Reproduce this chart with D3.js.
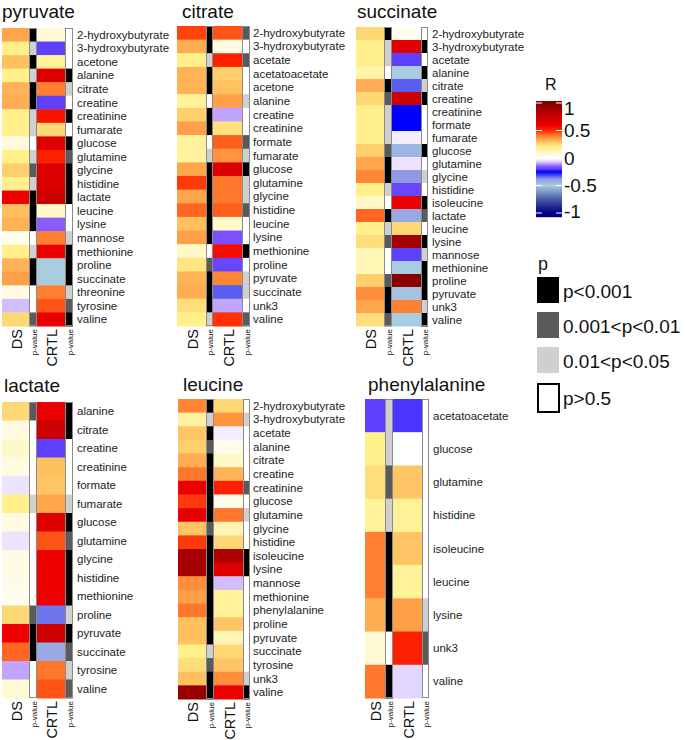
<!DOCTYPE html>
<html><head><meta charset="utf-8">
<script src="https://cdn.jsdelivr.net/npm/d3@7"></script>
<style>
body{margin:0;background:#fff}
svg{display:block}
text{font-family:Arial,"Liberation Sans",Helvetica,sans-serif}
</style>
</head><body>
<svg id="chart" width="685" height="740"></svg>
<script>
// ---------- DATA ----------
// p levels: 0 = p>0.05, 1 = 0.01<p<0.05, 2 = 0.001<p<0.01, 3 = p<0.001
const pyruvateRows = ["2-hydroxybutyrate","3-hydroxybutyrate","acetone","alanine","citrate","creatine","creatinine","fumarate","glucose","glutamine","glycine","histidine","lactate","leucine","lysine","mannose","methionine","proline","succinate","threonine","tyrosine","valine"];
const pyruvateDS    = [0.34,0.2,0.3,0.2,0.32,0.33,0.2,0.2,0.06,0.2,0.27,0.2,0.6,0.3,0.32,0.03,0.2,0.32,0.35,0.06,-0.08,0.25];
const pyruvateDSp   = [3,1,3,1,3,3,1,1,0,1,2,1,3,3,3,0,1,3,3,0,0,2];
const pyruvateCRTL  = [0.08,-0.2,0.18,0.68,0.4,-0.2,0.55,0.25,0.68,0.52,0.68,0.68,0.75,0.1,-0.15,0.4,0.62,-0.5,-0.5,0.4,0.45,0.62];
const pyruvateCRTLp = [0,0,0,3,1,0,3,0,3,2,3,3,3,0,0,1,3,3,3,1,2,3];

const citrateRows = ["2-hydroxybutyrate","3-hydroxybutyrate","acetate","acetatoacetate","acetone","alanine","creatine","creatinine","formate","fumarate","glucose","glutamine","glycine","histidine","leucine","lysine","methionine","proline","pyruvate","succinate","unk3","valine"];
const citrateDS    = [0.47,0.33,0.2,0.32,0.32,0.18,0.27,0.35,0.17,0.17,0.34,0.48,0.34,0.43,0.3,0.35,0.1,0.22,0.32,0.33,0.24,0.2];
const citrateDSp   = [3,3,1,3,3,0,3,3,0,1,3,3,3,3,3,3,0,2,3,3,3,1];
const citrateCRTL  = [0.45,0.06,0.52,0.27,0.3,0.35,-0.1,0.23,0.44,0.37,0.68,0.41,0.41,0.44,0.1,-0.17,0.57,-0.19,0.39,-0.33,-0.1,0.49];
const citrateCRTLp = [2,0,2,0,0,1,0,0,2,1,3,1,1,2,0,0,3,0,1,1,0,2];

const succinateRows = ["2-hydroxybutyrate","3-hydroxybutyrate","acetate","alanine","citrate","creatine","creatinine","formate","fumarate","glucose","glutamine","glycine","histidine","isoleucine","lactate","leucine","lysine","mannose","methionine","proline","pyruvate","unk3","valine"];
const succinateDS    = [0.25,0.2,0.2,0.15,0.33,0.25,0.2,0.2,0.2,0.27,0.34,0.39,0.2,0.1,0.43,0.2,0.24,0.13,0.13,0.27,0.38,0.34,0.24];
const succinateDSp   = [3,1,1,0,3,2,1,1,1,2,3,3,1,0,3,1,2,0,0,2,3,3,2];
const succinateCRTL  = [0.04,0.66,-0.2,-0.5,-0.33,0.75,-0.25,-0.25,-0.03,-0.45,-0.05,-0.38,-0.19,0.62,-0.42,0.25,0.88,-0.2,-0.5,0.97,-0.48,0.4,-0.5];
const succinateCRTLp = [0,3,0,3,1,3,0,0,0,3,0,1,0,3,2,0,3,1,3,3,3,1,3];

const lactateRows = ["alanine","citrate","creatine","creatinine","formate","fumarate","glucose","glutamine","glycine","histidine","methionine","proline","pyruvate","succinate","tyrosine","valine"];
const lactateDS    = [0.25,0.06,0.1,0.06,-0.05,0.2,0.06,-0.05,0.05,0.05,0.03,0.25,0.6,0.43,-0.1,0.08];
const lactateDSp   = [2,0,0,0,0,1,0,0,0,0,0,2,3,3,0,0];
const lactateCRTL  = [0.62,0.75,-0.2,0.3,0.29,0.34,0.66,0.45,0.6,0.6,0.6,-0.35,0.75,-0.42,0.41,0.45];
const lactateCRTLp = [3,3,0,0,0,1,3,2,3,3,3,1,3,2,1,2];

const leucineRows = ["2-hydroxybutyrate","3-hydroxybutyrate","acetate","alanine","citrate","creatine","creatinine","glucose","glutamine","glycine","histidine","isoleucine","lysine","mannose","methionine","phenylalanine","proline","pyruvate","succinate","tyrosine","unk3","valine"];
const leucineDS    = [0.39,0.17,0.29,0.27,0.33,0.41,0.6,0.48,0.63,0.29,0.48,0.88,0.88,0.38,0.35,0.41,0.3,0.3,0.2,0.24,0.3,0.92];
const leucineDSp   = [3,1,3,2,3,3,3,3,3,2,3,3,3,3,3,3,3,3,1,2,3,3];
const leucineCRTL  = [0.25,0.37,-0.03,0.04,0.1,0.32,0.52,0.04,0.41,0.13,0.25,0.85,0.68,-0.08,0.18,0.18,0.29,0.13,0.25,0.29,0.38,0.6];
const leucineCRTLp = [0,1,0,0,0,0,2,0,1,0,0,3,3,0,0,0,0,0,0,0,1,3];

const phenylalanineRows = ["acetatoacetate","glucose","glutamine","histidine","isoleucine","leucine","lysine","unk3","valine"];
const phenylalanineDS    = [-0.2,0.2,0.24,0.18,0.4,0.4,0.33,0.08,0.41];
const phenylalanineDSp   = [1,1,2,1,3,3,3,0,3];
const phenylalanineCRTL  = [-0.21,0,0.29,0.18,0.29,0.18,0.35,0.52,-0.06];
const phenylalanineCRTLp = [0,0,0,0,0,0,1,2,0];

const colorTicks = [1, 0.5, 0, -0.5, -1];
const colorTickLabels = ["1", "0.5", "0", "-0.5", "-1"];
const pLegendLabels = ["p<0.001", "0.001<p<0.01", "0.01<p<0.05", "p>0.5"];
const columnLabels = ["DS", "p-value", "CRTL", "p-value"];

// ---------- STYLE / LAYOUT ----------
const colorStops = [-1,-0.75,-0.5,-0.38,-0.25,-0.2,-0.15,-0.1,-0.05,0,0.05,0.1,0.2,0.3,0.4,0.5,0.6,0.75,1];
const colorRange = ["#000080","#4a5aa8","#a8cce0","#9098e6","#0000ff","#6040ff","#8a5cff","#c0a4ff","#ece4ff","#ffffff","#fffbe6","#fff8c8","#fff08c","#ffc060","#ff8030","#ff2800","#ee0000","#cc0000","#800000"];
const color = d3.scaleLinear().domain(colorStops).range(colorRange).interpolate(d3.interpolateRgb).clamp(true);
const pColor = d3.scaleOrdinal().domain([0,1,2,3]).range(["#ffffff","#cfcfcf","#5a5a5a","#000000"]);

const panels = [
  {title:"pyruvate", rows:pyruvateRows, ds:pyruvateDS, dsp:pyruvateDSp, cr:pyruvateCRTL, crp:pyruvateCRTLp},
  {title:"citrate", rows:citrateRows, ds:citrateDS, dsp:citrateDSp, cr:citrateCRTL, crp:citrateCRTLp},
  {title:"succinate", rows:succinateRows, ds:succinateDS, dsp:succinateDSp, cr:succinateCRTL, crp:succinateCRTLp},
  {title:"lactate", rows:lactateRows, ds:lactateDS, dsp:lactateDSp, cr:lactateCRTL, crp:lactateCRTLp},
  {title:"leucine", rows:leucineRows, ds:leucineDS, dsp:leucineDSp, cr:leucineCRTL, crp:leucineCRTLp},
  {title:"phenylalanine", rows:phenylalanineRows, ds:phenylalanineDS, dsp:phenylalanineDSp, cr:phenylalanineCRTL, crp:phenylalanineCRTLp}
];
const layout = [
  {top:28,bottom:326,x:[2,29,37,65,73],labelX:77,titleX:2,titleY:18},
  {top:26,bottom:326,x:[177,206,213,242,250],labelX:253,titleX:182,titleY:18},
  {top:27,bottom:326,x:[356,384,392,421,428],labelX:432,titleX:357,titleY:18},
  {top:402,bottom:698,x:[2,29,37,65,73],labelX:77,titleX:4,titleY:392},
  {top:399,bottom:699,x:[178,206,214,243,250],labelX:253,titleX:183,titleY:391},
  {top:399,bottom:698,x:[365,385,393,422,429],labelX:433,titleX:368,titleY:391}
];

const svg = d3.select("#chart");

panels.forEach((p, i) => {
  const L = layout[i];
  const g = svg.append("g");
  const y = d3.scaleBand().domain(p.rows).range([L.top, L.bottom]).paddingInner(0).paddingOuter(0);
  const cols = [
    {vals:p.ds, fill:v=>color(v), isP:false},
    {vals:p.dsp, fill:v=>pColor(v), isP:true},
    {vals:p.cr, fill:v=>color(v), isP:false},
    {vals:p.crp, fill:v=>pColor(v), isP:true}
  ];
  cols.forEach((c, ci) => {
    const x0 = L.x[ci], x1 = L.x[ci+1];
    g.append("g").selectAll("rect")
      .data(p.rows.map((r, ri) => ({r, v:c.vals[ri]})))
      .join("rect")
      .attr("x", x0).attr("width", x1 - x0)
      .attr("y", d => y(d.r)).attr("height", y.bandwidth() + 0.5)
      .attr("fill", d => c.fill(d.v));
    if (c.isP) {
      g.append("rect").attr("x", x0 + 0.5).attr("y", L.top + 0.5)
        .attr("width", x1 - x0 - 1).attr("height", L.bottom - L.top - 1)
        .attr("fill", "none").attr("stroke", "#8a8a8a").attr("stroke-width", 1);
    }
    // column label
    const cx = (x0 + x1) / 2 + 1;
    g.append("text")
      .attr("transform", `translate(${cx},${L.bottom + 3}) rotate(-90)`)
      .attr("text-anchor", "end").attr("dy", "0.35em")
      .attr("font-size", c.isP ? 8 : 14.5).attr("fill", "#111")
      .text(columnLabels[ci]);
  });
  // row labels
  g.append("g").selectAll("text").data(p.rows).join("text")
    .attr("x", L.labelX).attr("y", d => y(d) + y.bandwidth() / 2)
    .attr("dy", "0.35em").attr("font-size", 11.5).attr("fill", "#222")
    .text(d => d);
  // title
  g.append("text").attr("x", L.titleX).attr("y", L.titleY)
    .attr("font-size", 19).attr("fill", "#111").text(p.title);
});

// ---------- COLOR LEGEND ----------
const lg = svg.append("g");
const cy = d3.scaleLinear().domain([1, -1]).range([103, 213]);
lg.append("text").attr("x", 545).attr("y", 90).attr("font-size", 16).attr("fill", "#111").text("R");
const barTop = 101, barBot = 217;
lg.append("g").selectAll("rect").data(d3.range(barTop, barBot)).join("rect")
  .attr("x", 536).attr("width", 26).attr("y", d => d).attr("height", 1.2)
  .attr("fill", d => color(cy.invert(d + 0.5)));
colorTicks.forEach((t, k) => {
  lg.append("line").attr("x1", 536).attr("x2", 542).attr("y1", cy(t)).attr("y2", cy(t)).attr("stroke", "#fff").attr("stroke-width", 1);
  lg.append("line").attr("x1", 556).attr("x2", 562).attr("y1", cy(t)).attr("y2", cy(t)).attr("stroke", "#fff").attr("stroke-width", 1);
  const off = t === 1 ? 5 : (t === -1 ? -2 : 0);
  lg.append("text").attr("x", 564).attr("y", cy(t) + off).attr("dy", "0.35em")
    .attr("font-size", 19).attr("fill", "#111").text(colorTickLabels[k]);
});

// ---------- P LEGEND ----------
lg.append("text").attr("x", 538).attr("y", 270).attr("font-size", 18).attr("fill", "#111").text("p");
const pLevels = [3, 2, 1, 0];
const pBoxY = [277, 312, 347, 383];
pLevels.forEach((lv, k) => {
  const h = lv === 0 ? 28 : 26;
  lg.append("rect").attr("x", lv === 0 ? 538 : 537).attr("y", pBoxY[k] + (lv === 0 ? 1 : 0))
    .attr("width", lv === 0 ? 21 : 22).attr("height", h)
    .attr("fill", pColor(lv)).attr("stroke", lv === 0 ? "#000" : "none").attr("stroke-width", 2);
  lg.append("text").attr("x", 563).attr("y", pBoxY[k] + h / 2 + 1).attr("dy", "0.35em")
    .attr("font-size", 19).attr("fill", "#111").text(pLegendLabels[k]);
});
</script>
</body></html>
